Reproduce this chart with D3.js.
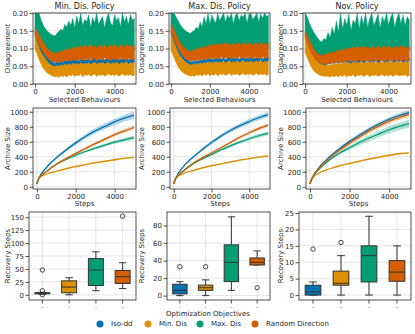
<!DOCTYPE html>
<html>
<head>
<meta charset="utf-8">
<script src="https://cdn.jsdelivr.net/npm/d3@7"></script>
<style>
  body { margin: 0; background: #fff; }
  svg { display: block; }
  text { font-family: "DejaVu Sans", sans-serif; fill: #262626; }
</style>
</head>
<body>
<svg id="chart" width="415" height="334"></svg>
<script>
// ---------- data ----------
const objectives = ["Iso-dd", "Min. Dis", "Max. Dis", "Random Direction"]
const objectiveColors = ["#0173b2", "#de8f05", "#029e73", "#d55e00"]
const policies = ["Min. Dis. Policy", "Max. Dis. Policy", "Nov. Policy"]

// disagreement envelopes (x 1000), evenly spaced over 0..5000 selected behaviours
const minPolIsoHi = [150,138,122,108,96,88,80,72,66,62,58,62,60,64,61,66,63,68,64,70,66,69,65,71,67,70,68,72,66,70,73,67,71,69,72,68,70,74,67,71,69,73,68,70,72,69,74,68,71,70,72]
const minPolIsoLo = [138,122,106,92,82,74,66,60,55,52,50,53,52,55,53,57,54,58,55,60,57,59,56,61,57,60,58,62,56,60,63,57,61,59,62,58,60,64,57,61,59,63,58,60,62,59,64,58,61,60,62]
const minPolMinHi = [142,128,112,98,86,76,68,62,57,54,52,54,53,56,55,58,56,60,57,62,59,63,60,65,61,64,66,60,64,62,66,60,65,63,61,66,62,65,60,66,63,64,61,66,62,65,61,66,63,64,63]
const minPolMinLo = [100,85,70,56,45,38,32,28,25,22,20,22,18,24,20,25,19,26,22,27,21,25,23,28,20,26,24,27,22,25,28,21,26,24,27,22,25,28,23,26,24,27,22,25,28,23,26,24,27,22,25]
const minPolMaxHi = [200,198,200,182,168,158,150,145,140,138,135,142,148,155,150,168,160,178,165,185,158,192,170,200,165,182,176,195,160,188,172,200,168,180,190,158,185,200,172,165,195,178,188,162,200,175,190,168,196,180,185]
const minPolMaxLo = [150,140,128,118,108,100,95,90,86,84,82,85,84,88,86,90,88,92,90,94,92,95,93,96,94,95,97,93,96,95,98,94,96,97,95,98,96,97,94,98,96,97,95,98,96,97,95,98,96,97,96]
const minPolRndHi = [160,150,140,128,118,110,102,96,92,88,86,90,88,94,92,98,95,100,97,104,100,106,102,108,104,110,103,107,112,104,108,100,110,106,104,112,102,108,110,104,112,106,103,110,108,104,112,106,109,104,110]
const minPolRndLo = [140,125,112,100,90,82,75,70,65,62,60,62,61,64,62,66,63,68,64,69,65,70,66,71,64,69,72,66,70,68,72,65,70,71,66,73,68,71,65,72,69,70,66,73,68,71,66,72,69,70,68]

const maxPolIsoHi = [155,142,126,112,100,90,82,75,70,66,62,65,63,67,64,69,66,71,67,73,69,72,68,74,70,73,71,75,69,73,76,70,74,72,75,71,73,77,70,74,72,76,71,73,75,72,77,71,74,73,75]
const maxPolIsoLo = [145,130,114,100,88,79,72,66,61,58,55,57,56,59,57,61,58,62,59,64,61,63,60,65,61,64,62,66,60,64,67,61,65,63,66,62,64,68,61,65,63,67,62,64,66,63,68,62,65,64,66]
const maxPolMinHi = [150,136,120,106,94,84,76,69,64,60,57,57,56,59,58,61,59,63,60,65,62,66,63,68,64,67,69,63,67,65,69,63,68,66,64,69,65,68,63,69,66,67,64,69,65,68,64,69,66,67,66]
const maxPolMinLo = [95,82,68,55,45,38,33,29,26,24,22,24,21,26,23,27,22,28,24,29,23,27,25,30,22,28,26,29,24,27,30,23,28,26,29,24,27,30,25,28,26,29,24,27,30,25,28,26,29,24,27]
const maxPolMaxHi = [200,200,196,185,175,165,158,152,148,145,142,148,150,160,155,175,162,190,170,200,168,195,180,172,200,178,190,200,175,195,185,200,170,192,200,178,195,188,200,172,196,200,182,190,200,176,198,185,200,190,195]
const maxPolMaxLo = [160,148,135,122,112,104,98,94,90,88,86,88,87,90,89,93,91,95,93,97,95,98,96,99,97,98,100,96,99,98,101,97,99,100,98,101,99,100,97,101,99,100,98,101,99,100,98,101,99,100,99]
const maxPolRndHi = [172,160,148,135,124,115,108,102,97,94,92,96,94,100,98,104,101,106,103,110,106,112,108,114,110,116,109,113,118,110,114,106,116,112,110,118,108,114,116,110,118,112,109,116,114,110,118,112,115,110,116]
const maxPolRndLo = [150,135,120,108,97,88,80,74,69,66,64,66,65,68,66,70,67,72,68,73,69,74,70,75,68,73,76,70,74,72,76,69,74,75,70,77,72,75,69,76,73,74,70,77,72,75,70,76,73,74,72]

const novPolIsoHi = [145,130,112,98,86,78,72,68,66,64,63,66,64,68,65,70,66,71,67,72,68,71,67,73,69,72,70,74,68,72,75,69,73,71,74,70,72,76,69,73,71,75,70,72,74,71,76,70,73,72,74]
const novPolIsoLo = [138,122,104,90,79,70,64,59,56,55,54,57,56,59,57,61,58,62,59,63,60,62,58,64,60,63,61,65,59,63,66,60,64,62,65,61,63,67,60,64,62,66,61,63,65,62,67,61,64,63,65]
const novPolMinHi = [142,126,108,94,82,72,65,60,57,56,55,54,53,56,55,58,56,59,57,61,58,62,59,63,60,62,64,59,63,61,64,59,63,62,60,64,61,63,59,64,62,63,60,64,61,63,60,64,62,63,62]
const novPolMinLo = [90,75,60,48,38,32,28,25,23,22,21,22,19,23,20,24,19,25,21,26,20,24,22,27,19,25,23,26,21,24,27,20,25,23,26,21,24,27,22,25,23,26,21,24,27,22,25,23,26,21,24]
const novPolMaxHi = [200,190,172,160,148,138,130,122,118,128,125,145,132,160,140,178,148,200,155,185,165,198,150,180,170,200,155,192,168,200,160,185,200,165,180,198,158,190,175,200,165,188,200,160,185,200,170,195,165,190,180]
const novPolMaxLo = [150,135,118,104,94,86,80,76,78,80,82,84,83,86,85,88,86,90,88,92,90,93,91,94,92,93,95,91,94,93,96,92,94,95,93,96,94,95,92,96,94,95,93,96,94,95,93,96,94,95,94]
const novPolRndHi = [150,138,125,112,100,92,86,82,80,82,84,88,86,91,89,95,92,97,94,100,97,103,99,105,101,107,100,104,109,101,105,97,107,103,101,109,99,105,107,101,109,103,100,107,105,101,109,103,106,101,107]
const novPolRndLo = [130,115,100,88,78,70,64,60,57,56,56,58,57,60,58,62,59,64,60,65,61,66,62,67,60,65,68,62,66,64,68,61,66,67,62,69,64,67,61,68,65,66,62,69,64,67,62,68,65,66,64]

// archive size
const archiveSteps = [0,100,500,1000,1500,2000,2500,3000,3500,4000,4500,5000]
const minPolIsoArchive = [40,110,260,385,490,585,670,745,805,865,915,955]
const minPolMinArchive = [40,110,170,205,240,270,295,320,340,360,378,392]
const minPolMaxArchive = [40,110,205,300,365,420,470,515,555,595,625,655]
const minPolRndArchive = [40,110,205,300,375,445,510,575,635,695,745,790]
const minPolIsoErr = [5,5,12,18,22,26,30,34,38,42,46,50]
const minPolMinErr = [3,3,5,6,7,8,9,10,11,12,12,13]
const minPolMaxErr = [5,5,8,10,12,15,17,19,21,23,25,27]
const minPolRndErr = [5,5,8,10,12,14,16,18,20,22,24,26]

const maxPolIsoArchive = [40,110,265,390,495,590,675,750,815,870,920,962]
const maxPolMinArchive = [40,110,175,215,250,280,305,330,355,375,395,410]
const maxPolMaxArchive = [40,110,205,300,370,430,490,545,595,640,680,712]
const maxPolRndArchive = [40,110,210,310,385,450,520,590,660,720,775,822]
const maxPolIsoErr = [5,5,10,14,18,22,25,28,30,32,34,36]
const maxPolMinErr = [3,3,5,6,7,8,9,10,11,12,12,13]
const maxPolMaxErr = [5,5,8,10,13,16,18,20,22,24,26,28]
const maxPolRndErr = [5,5,8,10,12,14,16,18,19,20,21,22]

const novPolIsoArchive = [40,110,270,400,510,605,690,770,840,900,950,990]
const novPolMinArchive = [40,110,190,240,280,310,340,370,395,420,440,452]
const novPolMaxArchive = [40,110,245,360,450,520,590,650,705,760,805,842]
const novPolRndArchive = [40,110,260,385,490,580,665,745,815,875,925,965]
const novPolIsoErr = [5,5,10,14,17,20,22,24,26,28,30,32]
const novPolMinErr = [3,3,5,6,7,8,9,10,11,12,12,13]
const novPolMaxErr = [5,5,12,18,24,30,35,40,44,48,50,52]
const novPolRndErr = [5,5,10,14,18,22,25,28,30,32,33,34]

// recovery steps boxes: [whisker low, q1, median, q3, whisker high]
const minPolBoxes = [[1,2,3,4,5],[0,4,15,27,33],[8,18,48,70,83],[12,22,35,47,62]]
const minPolOutliers = [[0,8,48],[],[],[152]]
const maxPolBoxes = [[0,2,6,13,16],[0,6,9,12,18],[6,16,38,58,90],[35,35,38,43,51]]
const maxPolOutliers = [[33],[33],[],[9]]
const novPolBoxes = [[0,0,1,3,4],[0,3,3.6,7.3,12],[0,4,12,15,24],[0,4.2,7,10.5,15]]
const novPolOutliers = [[14],[16],[],[]]

const disYTicks = [0, 0.05, 0.1, 0.15, 0.2]
const archiveYTicks = [0,200,400,600,800,1000]
const stepXTicks = [0, 2000, 4000]
const recoveryYTicks = [[0,25,50,75,100,125,150],[0,20,40,60,80],[0,5,10,15,20,25]]

// ---------- layout ----------
const svg = d3.select("#chart")
const gridColor = "#dedede"
const drawOrder = [2, 1, 0, 3] // green, orange, blue, red

const topBoxes = [{x0:33,x1:136},{x0:169,x1:270},{x0:303,x1:411}].map(b => ({...b, y0:13, y1:84}))
const midBoxes = [{x0:33,x1:136},{x0:170,x1:270},{x0:306,x1:411}].map(b => ({...b, y0:108, y1:189}))
const botBoxes = [{x0:29,x1:136},{x0:167,x1:270},{x0:299,x1:411}].map(b => ({...b, y0:212, y1:300}))
const yLabelX = [8, 142, 281]

function grid(b, x, y, xt, yt) {
    const g = svg.append("g")
    g.selectAll(".gy").data(yt).join("line")
        .attr("x1", b.x0).attr("x2", b.x1)
        .attr("y1", d => y(d)).attr("y2", d => y(d))
        .attr("stroke", gridColor).attr("stroke-width", 0.8)
    g.selectAll(".gx").data(xt).join("line")
        .attr("y1", b.y0).attr("y2", b.y1)
        .attr("x1", d => x(d)).attr("x2", d => x(d))
        .attr("stroke", gridColor).attr("stroke-width", 0.8)
}

function axes(b, x, y, xt, yt, xf, yf) {
    const ax = svg.append("g")
        .attr("transform", `translate(0,${b.y1})`)
        .call(d3.axisBottom(x).tickValues(xt).tickSize(3.5).tickPadding(1.5).tickFormat(xf))
    const ay = svg.append("g")
        .attr("transform", `translate(${b.x0},0)`)
        .call(d3.axisLeft(y).tickValues(yt).tickSize(3.5).tickPadding(1.5).tickFormat(yf))
    for (const a of [ax, ay]) {
        a.select(".domain").remove()
        a.selectAll("line").attr("stroke", "#262626").attr("stroke-width", 0.8)
        a.selectAll("text").style("font-size", "7px").style("font-family", "DejaVu Sans").attr("fill", "#262626")
    }
    svg.append("rect")
        .attr("x", b.x0).attr("y", b.y0)
        .attr("width", b.x1 - b.x0).attr("height", b.y1 - b.y0)
        .attr("fill", "none").attr("stroke", "#262626").attr("stroke-width", 0.8)
    return ax
}

function yLabel(col, b, txt) {
    svg.append("text")
        .attr("transform", `translate(${yLabelX[col]},${(b.y0 + b.y1) / 2}) rotate(-90)`)
        .attr("text-anchor", "middle").attr("dominant-baseline", "middle")
        .style("font-size", "7px").text(txt)
}

function xLabel(b, txt, yy) {
    svg.append("text")
        .attr("x", (b.x0 + b.x1) / 2).attr("y", yy)
        .attr("text-anchor", "middle")
        .style("font-size", "7px").text(txt)
}

// ---------- row 1: disagreement ----------
const disBands = [
    [[minPolIsoLo,minPolIsoHi],[minPolMinLo,minPolMinHi],[minPolMaxLo,minPolMaxHi],[minPolRndLo,minPolRndHi]],
    [[maxPolIsoLo,maxPolIsoHi],[maxPolMinLo,maxPolMinHi],[maxPolMaxLo,maxPolMaxHi],[maxPolRndLo,maxPolRndHi]],
    [[novPolIsoLo,novPolIsoHi],[novPolMinLo,novPolMinHi],[novPolMaxLo,novPolMaxHi],[novPolRndLo,novPolRndHi]]
]

topBoxes.forEach((b, col) => {
    const x = d3.scaleLinear().domain([-100, 5080]).range([b.x0, b.x1])
    const y = d3.scaleLinear().domain([0, 0.2]).range([b.y1, b.y0])
    grid(b, x, y, stepXTicks, disYTicks)

    svg.append("clipPath").attr("id", "clipTop" + col)
        .append("rect").attr("x", b.x0).attr("y", b.y0)
        .attr("width", b.x1 - b.x0).attr("height", b.y1 - b.y0)
    const g = svg.append("g").attr("clip-path", `url(#clipTop${col})`)

    drawOrder.forEach(k => {
        const [lo, hi] = disBands[col][k]
        const step = 5000 / (hi.length - 1)
        const area = d3.area()
            .x((d, i) => x(i * step))
            .y0((d, i) => y(lo[i] / 1000))
            .y1(d => y(d / 1000))
        g.append("path").datum(hi)
            .attr("d", area)
            .attr("fill", objectiveColors[k])
            .attr("stroke", objectiveColors[k]).attr("stroke-width", 0.4)
    })

    axes(b, x, y, stepXTicks, disYTicks, d3.format("d"), d3.format(".2f"))
    svg.append("text")
        .attr("x", (b.x0 + b.x1) / 2).attr("y", b.y0 - 4)
        .attr("text-anchor", "middle")
        .style("font-size", "8px").text(policies[col])
    xLabel(b, "Selected Behaviours", 102)
    yLabel(col, b, "Disagreement")
})

// ---------- row 2: archive size ----------
const archiveLines = [
    [[minPolIsoArchive,minPolIsoErr],[minPolMinArchive,minPolMinErr],[minPolMaxArchive,minPolMaxErr],[minPolRndArchive,minPolRndErr]],
    [[maxPolIsoArchive,maxPolIsoErr],[maxPolMinArchive,maxPolMinErr],[maxPolMaxArchive,maxPolMaxErr],[maxPolRndArchive,maxPolRndErr]],
    [[novPolIsoArchive,novPolIsoErr],[novPolMinArchive,novPolMinErr],[novPolMaxArchive,novPolMaxErr],[novPolRndArchive,novPolRndErr]]
]

midBoxes.forEach((b, col) => {
    const x = d3.scaleLinear().domain([-200, 5100]).range([b.x0, b.x1])
    const y = d3.scaleLinear().domain([-30, 1050]).range([b.y1, b.y0])
    grid(b, x, y, stepXTicks, archiveYTicks)

    archiveLines[col].forEach(([vals, err], k) => {
        const area = d3.area()
            .x((d, i) => x(archiveSteps[i]))
            .y0((d, i) => y(d - err[i]))
            .y1((d, i) => y(d + err[i]))
            .curve(d3.curveMonotoneX)
        svg.append("path").datum(vals)
            .attr("d", area)
            .attr("fill", objectiveColors[k]).attr("fill-opacity", 0.3)
    })
    archiveLines[col].forEach(([vals], k) => {
        const line = d3.line()
            .x((d, i) => x(archiveSteps[i]))
            .y(d => y(d))
            .curve(d3.curveMonotoneX)
        svg.append("path").datum(vals)
            .attr("d", line)
            .attr("fill", "none")
            .attr("stroke", objectiveColors[k]).attr("stroke-width", 1.3)
    })

    axes(b, x, y, stepXTicks, archiveYTicks, d3.format("d"), d3.format("d"))
    xLabel(b, "Steps", 206)
    yLabel(col, b, "Archive Size")
})

// ---------- row 3: recovery steps ----------
const recBoxes = [minPolBoxes, maxPolBoxes, novPolBoxes]
const recOutliers = [minPolOutliers, maxPolOutliers, novPolOutliers]
const recDomains = [[-10, 160], [-5, 95.5], [-1.5, 25.3]]

botBoxes.forEach((b, col) => {
    const x = d3.scaleBand().domain(objectives).range([b.x0, b.x1])
    const xc = d => x(d) + x.bandwidth() / 2
    const y = d3.scaleLinear().domain(recDomains[col]).range([b.y1, b.y0])
    const yt = recoveryYTicks[col]

    const g0 = svg.append("g")
    g0.selectAll("line.gy").data(yt).join("line")
        .attr("x1", b.x0).attr("x2", b.x1)
        .attr("y1", d => y(d)).attr("y2", d => y(d))
        .attr("stroke", gridColor).attr("stroke-width", 0.8)
    g0.selectAll("line.gx").data(objectives).join("line")
        .attr("x1", xc).attr("x2", xc)
        .attr("y1", b.y0).attr("y2", b.y1)
        .attr("stroke", gridColor).attr("stroke-width", 0.8)

    const bw = x.bandwidth() * 0.56
    const edge = "#333"
    objectives.forEach((name, k) => {
        const [lo, q1, med, q3, hi] = recBoxes[col][k]
        const cx = xc(name)
        const g = svg.append("g")
        g.append("line").attr("x1", cx).attr("x2", cx).attr("y1", y(q3)).attr("y2", y(hi))
            .attr("stroke", edge).attr("stroke-width", 1)
        g.append("line").attr("x1", cx).attr("x2", cx).attr("y1", y(q1)).attr("y2", y(lo))
            .attr("stroke", edge).attr("stroke-width", 1)
        g.append("line").attr("x1", cx - bw / 4).attr("x2", cx + bw / 4).attr("y1", y(hi)).attr("y2", y(hi))
            .attr("stroke", edge).attr("stroke-width", 1)
        g.append("line").attr("x1", cx - bw / 4).attr("x2", cx + bw / 4).attr("y1", y(lo)).attr("y2", y(lo))
            .attr("stroke", edge).attr("stroke-width", 1)
        g.append("rect")
            .attr("x", cx - bw / 2).attr("width", bw)
            .attr("y", y(q3)).attr("height", Math.max(1, y(q1) - y(q3)))
            .attr("fill", objectiveColors[k]).attr("stroke", edge).attr("stroke-width", 1)
        g.append("line").attr("x1", cx - bw / 2).attr("x2", cx + bw / 2).attr("y1", y(med)).attr("y2", y(med))
            .attr("stroke", edge).attr("stroke-width", 1)
        g.selectAll("circle").data(recOutliers[col][k]).join("circle")
            .attr("cx", cx).attr("cy", d => y(d)).attr("r", 2.2)
            .attr("fill", "none").attr("stroke", edge).attr("stroke-width", 0.9)
    })

    const ax = axes(b, x, y, objectives, yt, () => "-", d3.format("d"))
    ax.selectAll("text").style("font-size", "5px").attr("fill", "#777")
    yLabel(col, b, "Recovery Steps")
})

// ---------- legend ----------
svg.append("text")
    .attr("x", 208).attr("y", 316)
    .attr("text-anchor", "middle")
    .style("font-size", "7px").text("Optimization Objectives")

const legendX = [100, 148, 200, 255]
const legend = svg.append("g")
    .selectAll("g").data(objectives).join("g")
    .attr("transform", (d, i) => `translate(${legendX[i]},324)`)
legend.append("circle").attr("r", 3.5).attr("fill", (d, i) => objectiveColors[i])
legend.append("text")
    .attr("x", 11).attr("dy", "0.35em")
    .style("font-size", "7px").text(d => d)
</script>
</body>
</html>
